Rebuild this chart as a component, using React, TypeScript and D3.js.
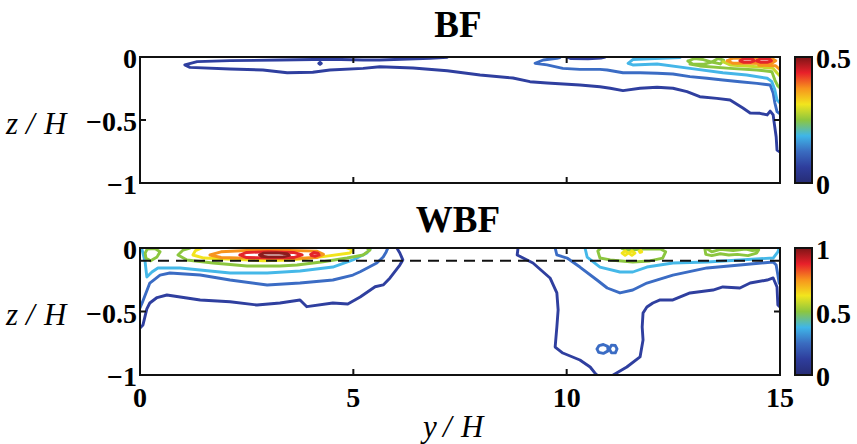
import React from "react";
import * as d3 from "d3";

type Pt = [number, number];

// ---------- axes / ticks ----------
const xTicks = [0, 5, 10, 15];
const zTicks = [0, -0.5, -1];
const bfBarTicks = [0, 0.5];
const wbfBarTicks = [0, 0.5, 1];
const bfTitle = "BF";
const wbfTitle = "WBF";
const wbfDashZ = -0.1;

// ---------- BF contours (y/H, z/H) ----------
const bfL1a: Pt[] = [
  [7.2, -0.002], [6.8, -0.01], [5.62, -0.024], [5.23, -0.024], [4.45, -0.018], [3.28, -0.024],
  [2.11, -0.029], [1.34, -0.037], [1.05, -0.063], [1.17, -0.082], [2.11, -0.095], [2.88, -0.103],
  [3.45, -0.125], [4.05, -0.121], [4.45, -0.103], [5.23, -0.09], [5.62, -0.077], [6.4, -0.087],
  [7.2, -0.109], [7.97, -0.143], [8.74, -0.167], [9.14, -0.196], [9.54, -0.206], [10.31, -0.222],
  [10.78, -0.236], [11.02, -0.248], [11.32, -0.267], [11.72, -0.248], [12.12, -0.24], [12.49, -0.248],
  [12.82, -0.275], [13.12, -0.315], [13.52, -0.328], [13.83, -0.341], [14.13, -0.405], [14.3, -0.444],
  [14.53, -0.447], [14.7, -0.46], [14.77, -0.429], [14.84, -0.46], [14.86, -0.513], [14.91, -0.633],
  [14.93, -0.738], [15, -0.754],
];
const bfL1b: Pt[] = [[10.0, 0], [10.1, -0.012], [10.5, -0.014], [10.8, -0.008], [10.9, 0]];
const bfL1dot: Pt[] = [[4.19, -0.05], [4.22, -0.042], [4.25, -0.05], [4.22, -0.058], [4.19, -0.05]];
const bfL2: Pt[] = [
  [9.84, -0.004], [9.77, -0.01], [9.45, -0.024], [9.26, -0.05], [9.54, -0.063], [9.91, -0.09],
  [10.31, -0.098], [10.78, -0.098], [10.95, -0.103], [11.32, -0.125], [11.72, -0.125], [12.12, -0.129],
  [12.49, -0.135], [12.89, -0.156], [13.29, -0.169], [13.66, -0.183], [14.06, -0.196], [14.46, -0.209],
  [14.77, -0.222], [14.84, -0.286], [14.88, -0.365], [14.93, -0.434], [15, -0.452],
];
const bfL3: Pt[] = [
  [12.66, -0.004], [12.07, -0.012], [11.55, -0.02], [11.44, -0.05], [11.55, -0.063], [12.12, -0.056],
  [12.89, -0.09], [13.66, -0.125], [14.22, -0.143], [14.7, -0.169], [14.81, -0.196], [14.88, -0.262],
  [14.93, -0.341], [15, -0.365],
];
const bfL4a: Pt[] = [
  [12.84, -0.032], [13.0, -0.012], [13.2, -0.02], [13.4, -0.04], [13.55, -0.012], [13.68, -0.025],
  [13.6, -0.055], [13.4, -0.04], [13.2, -0.058], [12.95, -0.055], [12.84, -0.032],
];
const bfL4b: Pt[] = [
  [12.89, -0.056], [13.12, -0.071], [13.83, -0.09], [14.46, -0.103], [14.81, -0.117], [14.88, -0.183],
  [14.95, -0.23], [15, -0.246],
];
const bfL5: Pt[] = [
  [13.66, -0.037], [13.83, -0.063], [14.46, -0.077], [14.84, -0.09], [14.93, -0.127], [15, -0.151],
];
const bfL6: Pt[] = [
  [13.76, -0.03], [13.9, -0.01], [14.3, -0.008], [14.8, -0.01], [14.9, -0.03], [14.8, -0.052],
  [14.3, -0.05], [13.9, -0.05], [13.76, -0.03],
];
const bfL6b: Pt[] = [[14.5, -0.066], [14.9, -0.07], [15, -0.1]];
const bfL7a: Pt[] = [
  [14.06, -0.03], [14.15, -0.014], [14.35, -0.014], [14.4, -0.03], [14.3, -0.042], [14.15, -0.042], [14.06, -0.03],
];
const bfL7b: Pt[] = [
  [14.45, -0.03], [14.55, -0.014], [14.75, -0.014], [14.8, -0.03], [14.7, -0.042], [14.55, -0.042], [14.45, -0.03],
];

// ---------- WBF contours ----------
const wbL1a: Pt[] = [
  [0, -0.63], [0.07, -0.606], [0.16, -0.48], [0.23, -0.433], [0.4, -0.39], [0.63, -0.37], [1.41, -0.409],
  [2.11, -0.423], [2.74, -0.449], [3.28, -0.433], [3.75, -0.409], [3.91, -0.462], [4.52, -0.433],
  [4.87, -0.441], [5.16, -0.386], [5.51, -0.305], [5.7, -0.291], [5.86, -0.236], [6.09, -0.134],
  [6.16, -0.094], [6.09, -0.039], [6.02, 0],
];
const wbL1b: Pt[] = [
  [8.86, 0], [8.84, -0.055], [9.21, -0.118], [9.61, -0.236], [9.77, -0.354], [9.8, -0.488],
  [9.77, -0.622], [9.73, -0.78], [9.91, -0.827], [10.31, -0.882], [10.55, -0.937], [10.66, -0.984], [10.71, -1],
];
const wbL1c: Pt[] = [
  [11.09, -1], [11.41, -0.937], [11.72, -0.858], [11.79, -0.724], [11.77, -0.622], [11.79, -0.512],
  [11.88, -0.465], [12.02, -0.433], [12.19, -0.409], [12.49, -0.409], [12.89, -0.354], [13.43, -0.331],
  [13.66, -0.307], [14.06, -0.315], [14.3, -0.276], [14.7, -0.252], [14.84, -0.236], [14.93, -0.307],
  [14.95, -0.449], [15, -0.465],
];
const wbL2a: Pt[] = [
  [0, -0.472], [0.05, -0.433], [0.23, -0.276], [0.47, -0.213], [0.7, -0.197], [1.41, -0.213],
  [2.11, -0.252], [2.98, -0.291], [3.75, -0.276], [4.52, -0.252], [4.99, -0.213], [5.16, -0.187],
  [5.55, -0.118], [5.7, -0.071], [5.77, -0.031], [5.81, 0],
];
const wbL2b: Pt[] = [
  [9.73, 0], [9.77, -0.055], [10.01, -0.079], [10.31, -0.15], [10.71, -0.252], [10.95, -0.315],
  [11.25, -0.354], [11.55, -0.331], [11.88, -0.276], [12.49, -0.213], [13.29, -0.157], [14.06, -0.134],
  [14.84, -0.11], [14.91, -0.134], [14.95, -0.213], [14.98, -0.276], [15, -0.283],
];
const wbL2c: Pt[] = [
  [10.71, -0.795], [10.76, -0.768], [10.86, -0.76], [10.96, -0.775], [10.97, -0.81], [10.86, -0.83],
  [10.75, -0.822], [10.71, -0.795],
];
const wbL2d: Pt[] = [
  [11.0, -0.795], [11.05, -0.765], [11.14, -0.768], [11.18, -0.795], [11.14, -0.826], [11.05, -0.826], [11.0, -0.795],
];
const wbL3a: Pt[] = [
  [0.05, -0.016], [0.12, -0.11], [0.16, -0.228], [0.28, -0.189], [0.42, -0.157], [0.94, -0.157],
  [2.11, -0.197], [2.98, -0.197], [3.75, -0.181], [4.52, -0.15], [4.99, -0.094], [5.32, -0.039], [5.41, 0],
];
const wbL3b: Pt[] = [
  [10.43, 0], [10.48, -0.071], [10.78, -0.15], [11.25, -0.189], [11.55, -0.189], [11.88, -0.15],
  [12.49, -0.118], [13.29, -0.11], [14.06, -0.094], [14.84, -0.079], [14.95, -0.031], [14.98, 0],
];
const wbL4a: Pt[] = [
  [0.12, -0.04], [0.17, -0.008], [0.35, -0.005], [0.47, -0.03], [0.4, -0.07], [0.25, -0.1], [0.14, -0.08], [0.12, -0.04],
];
const wbL4b: Pt[] = [
  [1.17, 0], [1.01, -0.016], [0.89, -0.055], [1.1, -0.094], [1.71, -0.118], [2.51, -0.142], [3.28, -0.142],
  [3.68, -0.134], [4.29, -0.108], [4.85, -0.079], [5.23, -0.055], [5.39, -0.016], [5.32, 0],
];
const wbL4c: Pt[] = [
  [10.8, 0], [10.73, -0.024], [10.78, -0.079], [11.02, -0.094], [11.55, -0.11], [11.95, -0.102],
  [12.25, -0.08], [12.32, -0.03], [12.2, -0.008], [11.7, -0.008], [11.5, -0.02], [11.3, -0.005],
];
const wbL4d: Pt[] = [
  [13.24, -0.008], [13.26, -0.05], [13.4, -0.06], [13.6, -0.045], [13.8, -0.055], [14.0, -0.05],
  [14.25, -0.06], [14.45, -0.04], [14.5, -0.015], [14.35, -0.02], [14.2, -0.008], [13.9, -0.02],
  [13.6, -0.01], [13.4, -0.03], [13.3, -0.008],
];
const wbL5a: Pt[] = [
  [1.45, 0], [1.3, -0.02], [1.24, -0.055], [1.5, -0.079], [2.88, -0.1], [3.52, -0.094], [4.29, -0.068],
  [4.92, -0.039], [4.99, -0.016], [4.85, 0],
];
const wbL5b: Pt[] = [[11.3, -0.04], [11.37, -0.022], [11.44, -0.04], [11.37, -0.058], [11.3, -0.04]];
const wbL5c: Pt[] = [[11.46, -0.04], [11.53, -0.022], [11.6, -0.04], [11.53, -0.058], [11.46, -0.04]];
const wbL5d: Pt[] = [[11.7, -0.025], [11.74, -0.02], [11.76, -0.03], [11.72, -0.035], [11.7, -0.025]];
const wbL6: Pt[] = [
  [1.64, -0.055], [1.9, -0.03], [2.5, -0.02], [3.5, -0.02], [4.15, -0.025], [4.3, -0.05], [4.15, -0.075],
  [3.5, -0.085], [2.5, -0.08], [1.9, -0.075], [1.64, -0.055],
];
const wbL7a: Pt[] = [
  [2.34, -0.055], [2.5, -0.035], [3.0, -0.03], [3.6, -0.035], [3.8, -0.055], [3.6, -0.075], [3.0, -0.078],
  [2.5, -0.075], [2.34, -0.055],
];
const wbL7b: Pt[] = [[4.0, -0.05], [4.07, -0.035], [4.17, -0.04], [4.2, -0.055], [4.1, -0.065], [4.02, -0.06], [4.0, -0.05]];
const wbL8: Pt[] = [
  [2.8, -0.055], [2.9, -0.04], [3.2, -0.038], [3.45, -0.045], [3.5, -0.058], [3.35, -0.07], [3.0, -0.07],
  [2.85, -0.065], [2.8, -0.055],
];

// level index per contour -> palette
const bfContours: { lvl: number; pts: Pt[] }[] = [
  { lvl: 0, pts: bfL1a }, { lvl: 0, pts: bfL1b }, { lvl: 0, pts: bfL1dot },
  { lvl: 1, pts: bfL2 }, { lvl: 2, pts: bfL3 }, { lvl: 3, pts: bfL4a }, { lvl: 3, pts: bfL4b },
  { lvl: 4, pts: bfL5 }, { lvl: 5, pts: bfL6 }, { lvl: 5, pts: bfL6b }, { lvl: 6, pts: bfL7a }, { lvl: 6, pts: bfL7b },
];
const wbfContours: { lvl: number; pts: Pt[] }[] = [
  { lvl: 0, pts: wbL1a }, { lvl: 0, pts: wbL1b }, { lvl: 0, pts: wbL1c },
  { lvl: 1, pts: wbL2a }, { lvl: 1, pts: wbL2b }, { lvl: 1, pts: wbL2c }, { lvl: 1, pts: wbL2d },
  { lvl: 2, pts: wbL3a }, { lvl: 2, pts: wbL3b },
  { lvl: 3, pts: wbL4a }, { lvl: 3, pts: wbL4b }, { lvl: 3, pts: wbL4c }, { lvl: 3, pts: wbL4d },
  { lvl: 4, pts: wbL5a }, { lvl: 4, pts: wbL5b }, { lvl: 4, pts: wbL5c }, { lvl: 4, pts: wbL5d },
  { lvl: 5, pts: wbL6 }, { lvl: 6, pts: wbL7a }, { lvl: 6, pts: wbL7b }, { lvl: 7, pts: wbL8 },
];

const bfPalette = ["#2f3f9f", "#3b6cc4", "#45b6e8", "#8cc63f", "#c9d92b", "#f7941d", "#e4262a"];
const wbfPalette = ["#2f3f9f", "#3b6cc4", "#45b8e8", "#8cc63f", "#f2e41c", "#f7941d", "#e4262a", "#8c1b1d"];
const jetStops = ["#262c74", "#2e3d9c", "#3a6cc0", "#3fb6e8", "#8dc63f", "#f2e51d", "#f7941d", "#e8202a", "#7d1416"];

const SERIF = "'Liberation Serif', 'Times New Roman', serif";
const X0 = 140, X1 = 780;
const panels = [
  { top: 57, bottom: 183, title: bfTitle, titleY: 37, max: 0.5, barTicks: bfBarTicks, contours: bfContours, palette: bfPalette, dash: false },
  { top: 248, bottom: 375, title: wbfTitle, titleY: 232, max: 1, barTicks: wbfBarTicks, contours: wbfContours, palette: wbfPalette, dash: true },
];

function Ratio({ x, y, a }: { x: number; y: number; a: string }) {
  return (
    <text y={y} fontStyle="italic" fontSize={31}>
      <tspan x={x}>{a}</tspan>
      <tspan x={x + 20}>/</tspan>
      <tspan x={x + 38}>H</tspan>
    </text>
  );
}

export default function App() {
  const x = d3.scaleLinear().domain([0, 15]).range([X0, X1]);
  const fmt = d3.format("");
  return (
    <svg width={857} height={444} style={{ position: "absolute", left: 0, top: 0, background: "#fff" }}
      fontFamily={SERIF}>
      <defs>
        <linearGradient id="jet" x1="0" y1="1" x2="0" y2="0">
          {jetStops.map((c, i) => (
            <stop key={i} offset={i / (jetStops.length - 1)} stopColor={c} />
          ))}
        </linearGradient>
        {panels.map((p, i) => (
          <clipPath id={"clip" + i} key={i}>
            <rect x={X0} y={p.top} width={X1 - X0} height={p.bottom - p.top} />
          </clipPath>
        ))}
      </defs>
      {panels.map((p, i) => {
        const y = d3.scaleLinear().domain([-1, 0]).range([p.bottom, p.top]);
        const cb = d3.scaleLinear().domain([0, p.max]).range([p.bottom, p.top]);
        const line = d3.line<Pt>().x((d) => x(d[0])).y((d) => y(d[1]));
        return (
          <g key={i}>
            <text x={458} y={p.titleY} textAnchor="middle" fontWeight="bold" fontSize={37}>{p.title}</text>
            <g clipPath={`url(#clip${i})`}>
              {p.contours.map((c, j) => (
                <path key={j} d={line(c.pts) || ""} fill="none" stroke={p.palette[c.lvl]}
                  strokeWidth={2.9} strokeLinejoin="round" strokeLinecap="round" />
              ))}
              {p.dash && (
                <line x1={x(0)} x2={x(15)} y1={y(wbfDashZ)} y2={y(wbfDashZ)} stroke="#111"
                  strokeWidth={2} strokeDasharray="11 7" />
              )}
            </g>
            <rect x={X0} y={p.top} width={X1 - X0} height={p.bottom - p.top} fill="none" stroke="#111" strokeWidth={2} />
            {xTicks.slice(1, -1).map((t) => (
              <g key={t}>
                <line x1={x(t)} x2={x(t)} y1={p.bottom} y2={p.bottom - 6} stroke="#111" strokeWidth={2} />
                <line x1={x(t)} x2={x(t)} y1={p.top} y2={p.top + 6} stroke="#111" strokeWidth={2} />
              </g>
            ))}
            {zTicks.map((t) => (
              <g key={t}>
                {t === -0.5 && (
                  <>
                    <line x1={X0} x2={X0 + 6} y1={y(t)} y2={y(t)} stroke="#111" strokeWidth={2} />
                    <line x1={X1} x2={X1 - 6} y1={y(t)} y2={y(t)} stroke="#111" strokeWidth={2} />
                  </>
                )}
                <text x={137} y={y(t) + 11} textAnchor="end" fontWeight="bold" fontSize={28}>{fmt(t)}</text>
              </g>
            ))}
            <Ratio x={6} y={p.top + 77} a="z" />
            <rect x={795} y={p.top} width={17} height={p.bottom - p.top} fill="url(#jet)" stroke="#111" strokeWidth={2} />
            {p.barTicks.map((t) => (
              <text key={t} x={816} y={cb(t) + 11} fontWeight="bold" fontSize={28}>{fmt(t)}</text>
            ))}
          </g>
        );
      })}
      {xTicks.map((t) => (
        <text key={t} x={x(t)} y={407} textAnchor="middle" fontWeight="bold" fontSize={28}>{fmt(t)}</text>
      ))}
      <Ratio x={423} y={437} a="y" />
    </svg>
  );
}
